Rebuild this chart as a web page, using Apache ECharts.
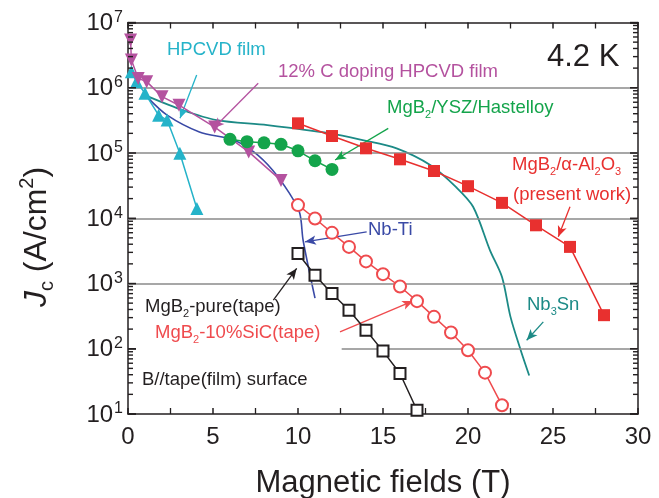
<!DOCTYPE html>
<html>
<head>
<meta charset="utf-8">
<script src="https://cdn.jsdelivr.net/npm/echarts@6/dist/echarts.min.js"></script>
<style>
  html, body { margin: 0; padding: 0; background: #fff; }
  #chart { width: 659px; height: 498px; }
</style>
</head>
<body>
<div id="chart"></div>
<script>
// Critical current density Jc (A/cm^2) versus magnetic field (T) at 4.2 K

// MgB2 / alpha-Al2O3 (present work) - filled red squares
const fieldAl2O3 = [10, 12, 14, 16, 18, 20, 22, 24, 26, 28];
const jcAl2O3 = [2.85e5, 1.82e5, 1.18e5, 8.0e4, 5.3e4, 3.1e4, 1.72e4, 7.8e3, 3.64e3, 327];

// MgB2/YSZ/Hastelloy - filled green circles
const fieldYsz = [6, 7, 8, 9, 10, 11, 12];
const jcYsz = [1.62e5, 1.49e5, 1.43e5, 1.36e5, 1.08e5, 7.6e4, 5.6e4];

// HPCVD film - cyan up triangles
const fieldHpcvd = [0.2, 0.5, 1, 1.8, 2.3, 3.05, 4.05];
const jcHpcvd = [1.76e6, 1.24e6, 8.2e5, 3.8e5, 3.2e5, 9.9e4, 1.41e4];

// 12% C doping HPCVD film - magenta down triangles
const fieldCdoped = [0.15, 0.2, 0.6, 1.1, 2, 3, 5.1, 7.1, 9];
const jcCdoped = [5.4e6, 2.66e6, 1.39e6, 1.24e6, 7.3e5, 5.4e5, 2.5e5, 1.04e5, 3.8e4];

// Nb-Ti - blue curve
const fieldNbTi = [1.1, 2.3, 4.2, 6.2, 7.4, 8.5, 9.5, 10.1, 10.3, 11.0];
const jcNbTi = [7.3e5, 3.8e5, 2.1e5, 1.58e5, 1.04e5, 5.5e4, 2.4e4, 1.2e4, 4.6e3, 596];

// Nb3Sn - teal curve
const fieldNb3Sn = [1.2, 3.2, 5.2, 8.2, 11.9, 13.8, 15.8, 17.8, 19.3, 20.3, 21.3, 22.0, 22.5, 23.1, 23.6];
const jcNb3Sn = [7.3e5, 4.55e5, 3.2e5, 2.68e5, 2.0e5, 1.58e5, 1.18e5, 6.5e4, 3.0e4, 1.5e4, 3.2e3, 1.26e3, 308, 95, 39];

// MgB2-10%SiC (tape) - open red circles
const fieldSiC = [10, 11, 12, 13, 14, 15, 16, 17, 18, 19, 20, 21, 22];
const jcSiC = [1.59e4, 9.9e3, 5.97e3, 3.64e3, 2.18e3, 1.39e3, 900, 536, 308, 177, 95, 43, 13.6];

// MgB2-pure (tape) - open black squares
const fieldPure = [10, 11, 12, 13, 14, 15, 16, 17];
const jcPure = [2.88e3, 1.34e3, 703, 389, 192, 92, 41.7, 11.4];

// Axis ticks
const xTicks = [0, 5, 10, 15, 20, 25, 30];
const yDecades = [1, 2, 3, 4, 5, 6, 7];

const FONT = "'Liberation Sans', Arial, Helvetica, sans-serif";
const INK = '#231f20';
const C = {
  red: '#e8302f', green: '#14a44b', cyan: '#25b3c9', magenta: '#b4529f',
  blue: '#3a4aa6', teal: '#1c8a86', sic: '#ef4b4e', grid: '#8a8a8a'
};

const pairs = (xs, ys) => xs.map((x, i) => [x, ys[i]]);

// Pointer arrows from labels to curves, in data coordinates [from, to]
const pointers = [
  { from: [4.04, 1.57e6], to: [3.06, 3.4e5], color: C.cyan },
  { from: [7.66, 1.17e6], to: [5.02, 2.38e5], color: C.magenta },
  { from: [15.31, 2.38e5], to: [12.18, 7.8e4], color: C.green },
  { from: [26.0, 1.5e4], to: [25.31, 5.19e3], color: C.red },
  { from: [14.04, 6.2e3], to: [10.41, 4.35e3], color: C.blue },
  { from: [8.55, 555], to: [9.92, 1.7e3], color: INK },
  { from: [12.47, 181], to: [16.78, 541], color: C.sic },
  { from: [24.43, 258], to: [23.45, 135], color: C.teal }
];

// Horizontal reference lines
const decorLines = [];
[1e3, 1e4, 1e5, 1e6].forEach(v => decorLines.push([{ coord: [0, v] }, { coord: [30, v] }]));
decorLines.push([{ coord: [12.57, 100] }, { coord: [30, 100] }]);

// Log-axis tick values: [value, isMajor]
const logTicks = [];
yDecades.forEach(e => logTicks.push([Math.pow(10, e), true]));
for (let d = 1; d < 7; d++) {
  for (let m = 2; m <= 9; m++) logTicks.push([m * Math.pow(10, d), false]);
}

const arrowLines = pointers.map(p => [
  { coord: p.from, symbol: 'none', lineStyle: { color: p.color, width: 1.3, type: 'solid' } },
  { coord: p.to, symbol: 'arrow', symbolSize: [7, 11] }
]);

const chart = echarts.init(document.getElementById('chart'), null, { renderer: 'canvas' });

const axisLineStyle = { color: INK, width: 1.5 };
const baseX = {
  type: 'value', min: 0, max: 30, interval: 5,
  axisLine: { show: true, onZero: false, lineStyle: axisLineStyle },
  axisTick: { show: true, inside: true, length: 6, lineStyle: axisLineStyle },
  minorTick: { show: true, splitNumber: 2, length: 6, lineStyle: { color: INK, width: 1.3 } },
  splitLine: { show: false }
};
const baseY = {
  type: 'log', logBase: 10, min: 10, max: 1e7,
  axisLine: { show: true, onZero: false, lineStyle: axisLineStyle },
  axisTick: { show: true, inside: true, length: 8, lineStyle: axisLineStyle },
  splitLine: { show: false }
};

const rt = (size, color, extra) => Object.assign({ fontSize: size, fontFamily: FONT, fill: color, color: color }, extra || {});
function label(x, y, text, color, size) {
  size = size || 18.5;
  return {
    type: 'text', x: x, y: y, silent: true,
    style: {
      text: text, fontSize: size, fontFamily: FONT, fill: color,
      align: 'left', verticalAlign: 'middle',
      rich: {
        n: rt(size, color, { lineHeight: 24, verticalAlign: 'middle' }),
        s: rt(11, color, { lineHeight: 12, verticalAlign: 'bottom' })
      }
    }
  };
}

const texts = [
  {
    type: 'text', x: 37, y: 237, rotation: Math.PI / 2, silent: true,
    style: {
      text: '{j|J}{c|c}{n| (A/cm}{p|2}{n|)}',
      align: 'center', verticalAlign: 'middle', fill: INK, fontSize: 32, fontFamily: FONT,
      rich: {
        j: rt(32, INK, { fontStyle: 'italic', lineHeight: 40, verticalAlign: 'middle' }),
        c: rt(20, INK, { lineHeight: 18, verticalAlign: 'bottom' }),
        n: rt(32, INK, { lineHeight: 40, verticalAlign: 'middle' }),
        p: rt(20, INK, { lineHeight: 26, verticalAlign: 'top' })
      }
    }
  },
  label(167, 50, '{n|HPCVD film}', C.cyan),
  label(278, 72, '{n|12% C doping HPCVD film}', C.magenta),
  label(547, 57, '4.2 K', INK, 31),
  label(387, 108, '{n|MgB}{s|2}{n|/YSZ/Hastelloy}', C.green),
  label(512, 165, '{n|MgB}{s|2}{n|/α-Al}{s|2}{n|O}{s|3}', C.red),
  label(513, 195, '{n|(present work)}', C.red),
  label(368, 230, '{n|Nb-Ti}', C.blue),
  label(145, 307, '{n|MgB}{s|2}{n|-pure(tape)}', INK),
  label(155, 333, '{n|MgB}{s|2}{n|-10%SiC(tape)}', C.sic),
  label(142, 380, '{n|B//tape(film) surface}', INK),
  label(527, 305, '{n|Nb}{s|3}{n|Sn}', C.teal)
];

const option = {
  animation: false,
  backgroundColor: '#fff',
  grid: { left: 128, right: 21, top: 22.5, bottom: 84, containLabel: false, outerBoundsMode: 'none' },
  xAxis: [
    Object.assign({}, baseX, {
      position: 'bottom',
      name: 'Magnetic fields (T)', nameLocation: 'middle', nameGap: 54,
      nameTextStyle: { fontSize: 31, fontFamily: FONT, color: INK },
      axisLabel: {
        margin: 11, fontSize: 24, fontFamily: FONT, color: INK,
        formatter: v => (xTicks.indexOf(v) >= 0 ? String(v) : '')
      }
    }),
    Object.assign({}, baseX, { position: 'top', axisLabel: { show: false } })
  ],
  yAxis: [
    Object.assign({}, baseY, {
      position: 'left',
      axisLabel: {
        margin: 5, color: INK,
        formatter: v => {
          const e = Math.round(Math.log10(v));
          return yDecades.indexOf(e) >= 0 ? '{b|10}{s|' + e + '}' : '';
        },
        rich: {
          b: { fontSize: 24, fontFamily: FONT, color: INK, lineHeight: 26, verticalAlign: 'bottom' },
          s: { fontSize: 16, fontFamily: FONT, color: INK, lineHeight: 16, verticalAlign: 'top', padding: [0, 0, 0, 1] }
        }
      }
    }),
    Object.assign({}, baseY, { position: 'right', axisLabel: { show: false } })
  ],
  graphic: texts,
  series: [
    {
      name: 'guides', type: 'line', data: [], silent: true, z: 1,
      markLine: {
        silent: true, symbol: ['none', 'none'], label: { show: false },
        lineStyle: { color: C.grid, width: 1.5, type: 'solid' },
        data: decorLines
      }
    },
    {
      name: 'Nb3Sn', type: 'line', smooth: 0.3, showSymbol: false, z: 4,
      lineStyle: { color: C.teal, width: 1.8 }, itemStyle: { color: C.teal },
      data: pairs(fieldNb3Sn, jcNb3Sn)
    },
    {
      name: 'Nb-Ti', type: 'line', smooth: 0.3, showSymbol: false, z: 4,
      lineStyle: { color: C.blue, width: 1.6 }, itemStyle: { color: C.blue },
      data: pairs(fieldNbTi, jcNbTi)
    },
    {
      name: 'HPCVD film', type: 'line', symbol: 'triangle', symbolSize: 13, z: 5,
      lineStyle: { color: C.cyan, width: 1.5 }, itemStyle: { color: C.cyan },
      data: pairs(fieldHpcvd, jcHpcvd)
    },
    {
      name: '12% C doping HPCVD film', type: 'line', symbol: 'triangle', symbolRotate: 180, symbolSize: 13, z: 5,
      lineStyle: { color: C.magenta, width: 1.5 }, itemStyle: { color: C.magenta },
      data: pairs(fieldCdoped, jcCdoped)
    },
    {
      name: 'MgB2/YSZ/Hastelloy', type: 'line', symbol: 'circle', symbolSize: 13, z: 5,
      lineStyle: { color: C.green, width: 1.5 }, itemStyle: { color: C.green },
      data: pairs(fieldYsz, jcYsz)
    },
    {
      name: 'MgB2/α-Al2O3', type: 'line', symbol: 'rect', symbolSize: 12, z: 6,
      lineStyle: { color: C.red, width: 1.5 }, itemStyle: { color: C.red },
      data: pairs(fieldAl2O3, jcAl2O3)
    },
    {
      name: 'MgB2-10%SiC(tape)', type: 'line', symbol: 'emptyCircle', symbolSize: 12, z: 6,
      lineStyle: { color: C.sic, width: 1.5 }, itemStyle: { color: C.sic, borderWidth: 1.5 },
      data: pairs(fieldSiC, jcSiC)
    },
    {
      name: 'MgB2-pure(tape)', type: 'line', symbol: 'emptyRect', symbolSize: 11, z: 6,
      lineStyle: { color: INK, width: 1.5 }, itemStyle: { color: INK, borderWidth: 1.5 },
      data: pairs(fieldPure, jcPure)
    },
    {
      name: 'pointers', type: 'line', data: [], silent: true, z: 7,
      markLine: {
        silent: true, symbol: ['none', 'arrow'], label: { show: false },
        lineStyle: { type: 'solid', width: 1.3 },
        data: arrowLines
      }
    }
  ]
};

chart.setOption(option);

// Inward log ticks on the left and right frame, placed through the y scale
const tickMarks = [];
logTicks.forEach(([v, major]) => {
  const L = chart.convertToPixel({ xAxisIndex: 0, yAxisIndex: 0 }, [0, v]);
  const R = chart.convertToPixel({ xAxisIndex: 0, yAxisIndex: 0 }, [30, v]);
  const len = major ? 8 : 5;
  const st = { stroke: INK, lineWidth: 1.4 };
  tickMarks.push({ type: 'line', silent: true, z: 50, shape: { x1: L[0], y1: L[1], x2: L[0] + len, y2: L[1] }, style: st });
  tickMarks.push({ type: 'line', silent: true, z: 50, shape: { x1: R[0] - len, y1: R[1], x2: R[0], y2: R[1] }, style: st });
});
chart.setOption({ graphic: texts.concat(tickMarks) });
</script>
</body>
</html>
